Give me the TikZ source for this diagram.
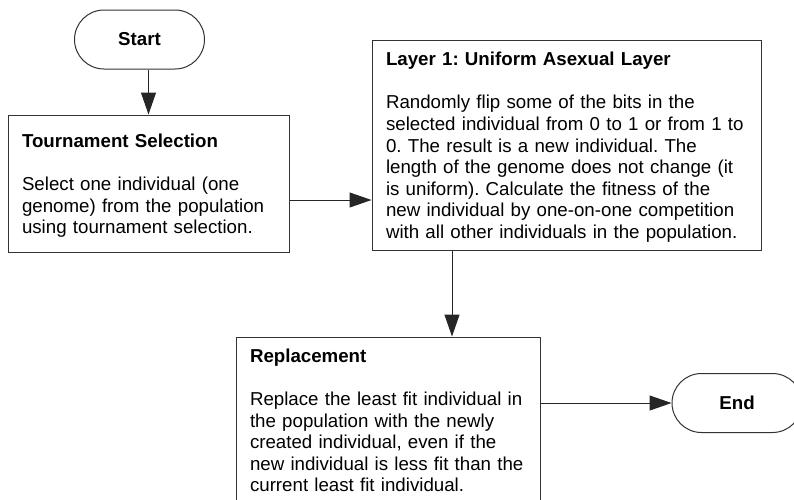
\documentclass[tikz,border=0pt]{standalone}
\usepackage{fontspec}
\setmainfont{Liberation Sans}
\usetikzlibrary{arrows.meta,shapes.misc}
\frenchspacing
\begin{document}
\begin{tikzpicture}[x=1pt,y=-1pt,
  txt/.style={font=\fontsize{18.7}{21.6}\selectfont},
  proc/.style={txt, draw=black!80, line width=1pt, align=left, inner xsep=14pt, inner ysep=0pt, anchor=center},
  term/.style={draw=black!80, line width=1pt, rounded rectangle, minimum width=130pt, minimum height=59pt, inner sep=0pt, font=\fontsize{18.7}{21.6}\selectfont\bfseries},
  conn/.style={draw=black!85, line width=1pt, -{Triangle[length=22pt,width=15pt]}}]
\clip (0,0) rectangle (794,499);
\fill[white] (0,0) rectangle (794,499);

\node[term] (start) at (139.5,39.5) {Start};
\node[term] (end) at (737,403) {End};

\node[proc, text width=253pt, minimum height=137pt] (tour) at (148.5,183.5)
  {\rule{0pt}{18pt}\textbf{Tournament Selection}\\[21.6pt]
   Select one individual (one\\
   genome) from the population\\
   using tournament selection.};

\node[proc, text width=361pt, minimum height=210pt] (layer) at (566.5,145)
  {\rule{0pt}{18pt}\textbf{Layer 1: Uniform Asexual Layer}\\[21.6pt]
   Randomly flip some of the bits in the\\
   selected individual from 0 to 1 or from 1 to\\
   0. The result is a new individual. The\\
   length of the genome does not change (it\\
   is uniform). Calculate the fitness of the\\
   new individual by one-on-one competition\\
   with all other individuals in the population.};

\node[proc, text width=276pt, minimum height=167pt] (rep) at (388,420.5)
  {\textbf{Replacement}\\[21.6pt]
   Replace the least fit individual in\\
   the population with the newly\\
   created individual, even if the\\
   new individual is less fit than the\\
   current least fit individual.};

\coordinate (row1) at (0,200);
\coordinate (col1) at (452,0);

\draw[conn] (tour.north |- start.south) -- (tour.north);
\draw[conn] (tour.east |- row1) -- (layer.west |- row1);
\draw[conn] (layer.south -| col1) -- (rep.north -| col1);
\draw[conn] (rep.east |- end.west) -- (end.west);
\end{tikzpicture}
\end{document}
